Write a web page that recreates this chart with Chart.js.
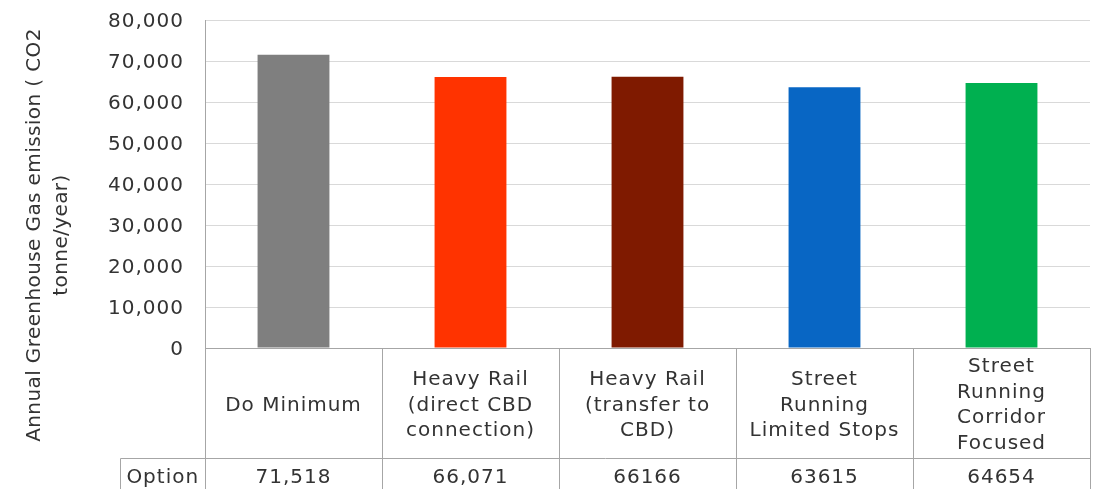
<!DOCTYPE html>
<html>
<head>
<meta charset="utf-8">
<script src="https://cdn.jsdelivr.net/npm/chart.js@4"></script>
<style>
  html, body { margin: 0; padding: 0; background: #fff; }
  canvas { display: block; }
</style>
</head>
<body>
<canvas id="ghgChart" width="1099" height="489"></canvas>
<script>
const options = [
  ['Do Minimum'],
  ['Heavy Rail', '(direct CBD', 'connection)'],
  ['Heavy Rail', '(transfer to', 'CBD)'],
  ['Street', 'Running', 'Limited Stops'],
  ['Street', 'Running', 'Corridor', 'Focused']
];
const emissions = [71518, 66071, 66166, 63615, 64654];
// the source table only used a thousands separator on the first two cells
const useSeparator = [true, true, false, false, false];
const barColors = ['#7f7f7f', '#ff3300', '#7f1a00', '#0866c4', '#00b050'];
const yTitle = ['Annual Greenhouse Gas emission ( CO2', 'tonne/year)'];
const rowLabel = 'Option';

const FONT = '"DejaVu Sans", sans-serif';
const TEXT = '#333333';
const LINE = '#a6a6a6';

function fmt(v, sep) {
  return sep ? v.toLocaleString('en-US') : String(v);
}

// canvas state gets reset on resize, so set the spacing right before drawing
const spacingPlugin = {
  id: 'spacing',
  beforeDraw(chart) { chart.ctx.letterSpacing = '1px'; }
};

// draws the axis title and the data table under the plot area
const tablePlugin = {
  id: 'dataTable',
  afterDraw(chart) {
    const { ctx, chartArea: area, scales: { x } } = chart;
    const top = area.bottom;
    const headBottom = top + 110;
    const bottom = headBottom + 36;
    const optLeft = 120;
    const n = options.length;
    const edges = [];
    for (let i = 0; i <= n; i++) edges.push(Math.round(x.getPixelForValue(i - 0.5)) + 0.5);

    ctx.save();
    ctx.strokeStyle = LINE;
    ctx.lineWidth = 1;
    ctx.beginPath();
    // axis line / table top
    ctx.moveTo(edges[0], top + 0.5); ctx.lineTo(edges[n], top + 0.5);
    // header / value row split
    ctx.moveTo(optLeft + 0.5, headBottom + 0.5); ctx.lineTo(edges[n], headBottom + 0.5);
    ctx.moveTo(optLeft + 0.5, headBottom + 0.5); ctx.lineTo(optLeft + 0.5, bottom);
    ctx.moveTo(edges[0], area.top); ctx.lineTo(edges[0], bottom);
    for (let i = 1; i <= n; i++) {
      ctx.moveTo(edges[i], top); ctx.lineTo(edges[i], bottom);
    }
    ctx.stroke();

    ctx.fillStyle = TEXT;
    ctx.font = '20px ' + FONT;
    ctx.letterSpacing = '1px';
    ctx.textAlign = 'center';
    ctx.textBaseline = 'middle';
    const lh = 25.5;
    const headMid = (top + headBottom) / 2 + 2.5;
    const valMid = headBottom + 20;
    options.forEach((lines, i) => {
      const cx = x.getPixelForValue(i);
      const y0 = headMid - (lines.length - 1) * lh / 2;
      lines.forEach((s, j) => ctx.fillText(s, cx, y0 + j * lh));
      ctx.fillText(fmt(emissions[i], useSeparator[i]), cx, valMid);
    });
    ctx.fillText(rowLabel, (optLeft + edges[0]) / 2, valMid);

    // rotated y title
    ctx.font = '20px ' + FONT;
    ctx.letterSpacing = '0.4px';
    ctx.translate(35, 235);
    ctx.rotate(-Math.PI / 2);
    yTitle.forEach((s, j) => ctx.fillText(s, 0, j * 27));
    ctx.restore();
  }
};

new Chart(document.getElementById('ghgChart').getContext('2d'), {
  type: 'bar',
  data: {
    labels: options,
    datasets: [{
      data: emissions,
      backgroundColor: barColors,
      borderWidth: 0,
      categoryPercentage: 1,
      barPercentage: 0.406
    }]
  },
  options: {
    responsive: false,
    animation: false,
    devicePixelRatio: 1,
    layout: { padding: { left: 0, top: 20, right: 9, bottom: 141 } },
    plugins: { legend: { display: false }, tooltip: { enabled: false } },
    scales: {
      x: { display: false },
      y: {
        min: 0,
        max: 80000,
        afterFit(scale) {
          scale.width = 205;
          // keep the label overhang from pushing the plot area down
          scale.paddingTop = 0;
          scale.paddingBottom = 0;
        },
        ticks: {
          stepSize: 10000,
          padding: 21,
          labelOffset: 2,
          color: TEXT,
          font: { family: FONT, size: 20 },
          callback: v => v.toLocaleString('en-US')
        },
        grid: { color: '#d9d9d9', drawTicks: false },
        border: { color: LINE }
      }
    }
  },
  plugins: [spacingPlugin, tablePlugin]
});
</script>
</body>
</html>
